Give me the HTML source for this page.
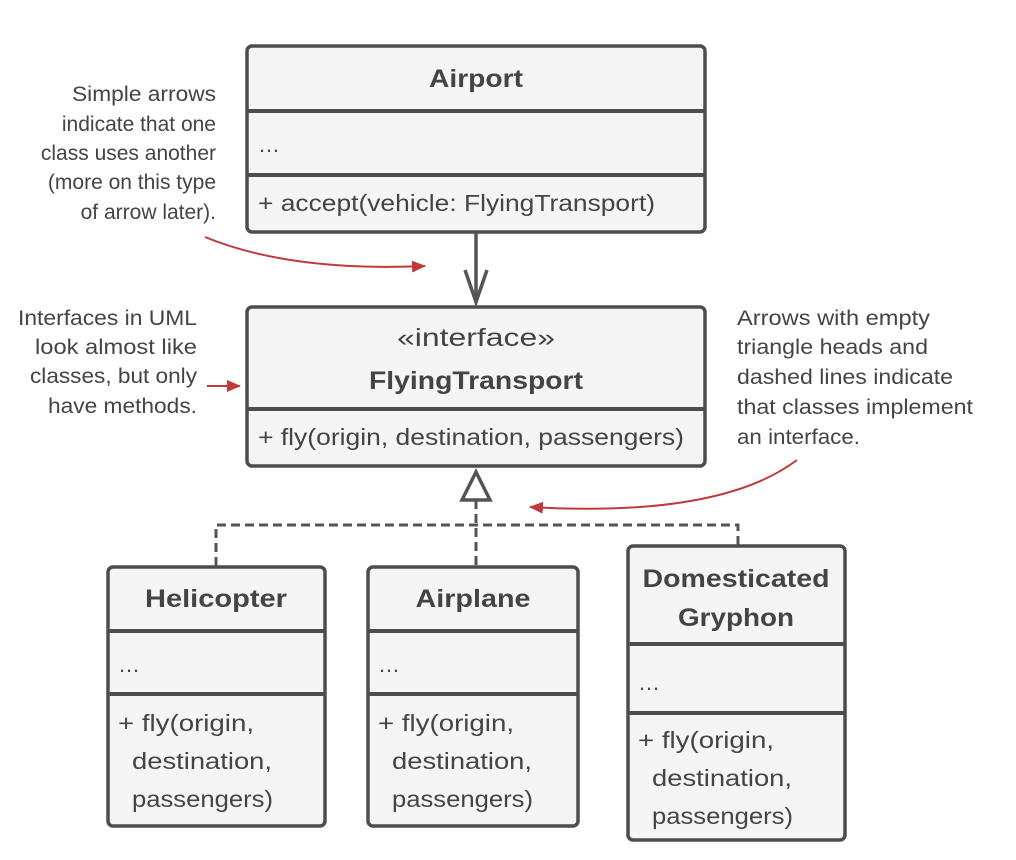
<!DOCTYPE html>
<html><head><meta charset="utf-8"><style>
html,body{margin:0;padding:0;background:#fff;}
svg{display:block;}
text{font-family:"Liberation Sans",sans-serif;fill:#444;}
.b{font-weight:bold;}
</style></head><body>
<svg width="1016" height="860" viewBox="0 0 1016 860" xmlns="http://www.w3.org/2000/svg">
<defs>
<marker id="red" markerWidth="14" markerHeight="12" refX="13" refY="6" orient="auto" markerUnits="userSpaceOnUse">
<path d="M0,0 L14,6 L0,12 z" fill="#c0393b"/></marker>
</defs>
<g fill="#f5f5f5" stroke="#4d4d4d" stroke-width="3.5">
<rect x="247" y="46" width="458" height="186" rx="5"/>
<rect x="247" y="307" width="458" height="159" rx="5"/>
<rect x="108" y="567" width="217" height="259" rx="5"/>
<rect x="368" y="567" width="210" height="259" rx="5"/>
<rect x="628" y="546" width="217" height="294" rx="5"/>
</g>
<g stroke="#4d4d4d" stroke-width="4">
<line x1="247" y1="111" x2="705" y2="111"/>
<line x1="247" y1="175" x2="705" y2="175"/>
<line x1="247" y1="409" x2="705" y2="409"/>
<line x1="108" y1="631" x2="325" y2="631"/>
<line x1="108" y1="694" x2="325" y2="694"/>
<line x1="368" y1="631" x2="578" y2="631"/>
<line x1="368" y1="694" x2="578" y2="694"/>
<line x1="628" y1="644" x2="845" y2="644"/>
<line x1="628" y1="713" x2="845" y2="713"/>
</g>
<g stroke="#555" stroke-width="3.5" fill="none">
<line x1="476" y1="232" x2="476" y2="302"/>
<polyline points="465,270 476,302 487,270"/>
</g>
<g stroke="#555" stroke-width="3" fill="none" stroke-dasharray="9,5">
<line x1="476" y1="500" x2="476" y2="566"/>
<polyline points="216,566 216,525 738,525 738,545"/>
</g>
<polygon points="476,472 462,500 490,500" fill="#fff" stroke="#555" stroke-width="3.5"/>
<g stroke="#c0393b" stroke-width="2" fill="none">
<path d="M205,237 Q290,272 425,266" marker-end="url(#red)"/>
<path d="M207,386 L240,386" marker-end="url(#red)"/>
<path d="M797,460 Q720,518 530,507" marker-end="url(#red)"/>
</g>
<g font-size="25">
<text x="476" y="87" text-anchor="middle" class="b" textLength="94" lengthAdjust="spacingAndGlyphs">Airport</text>
<text x="258" y="152" font-size="22">…</text>
<text x="258" y="211" font-size="23" textLength="397" lengthAdjust="spacingAndGlyphs">+ accept(vehicle: FlyingTransport)</text>
<text x="476" y="346" text-anchor="middle" textLength="158" lengthAdjust="spacingAndGlyphs">«interface»</text>
<text x="476" y="389" text-anchor="middle" class="b" textLength="214" lengthAdjust="spacingAndGlyphs">FlyingTransport</text>
<text x="258" y="445" font-size="23" textLength="426" lengthAdjust="spacingAndGlyphs">+ fly(origin, destination, passengers)</text>
<text x="216" y="607" text-anchor="middle" class="b" textLength="142" lengthAdjust="spacingAndGlyphs">Helicopter</text>
<text x="473" y="607" text-anchor="middle" class="b" textLength="115" lengthAdjust="spacingAndGlyphs">Airplane</text>
<text x="736" y="587" text-anchor="middle" class="b" textLength="187" lengthAdjust="spacingAndGlyphs">Domesticated</text>
<text x="736" y="626" text-anchor="middle" class="b" textLength="116" lengthAdjust="spacingAndGlyphs">Gryphon</text>
<g font-size="22">
<text x="118" y="672">…</text><text x="378" y="672">…</text><text x="638" y="690">…</text>
</g>
<g font-size="23">
<text x="118" y="731" textLength="136" lengthAdjust="spacingAndGlyphs">+ fly(origin,</text>
<text x="132" y="769" textLength="140" lengthAdjust="spacingAndGlyphs">destination,</text>
<text x="132" y="807" textLength="141" lengthAdjust="spacingAndGlyphs">passengers)</text>
<text x="378" y="731" textLength="136" lengthAdjust="spacingAndGlyphs">+ fly(origin,</text>
<text x="392" y="769" textLength="140" lengthAdjust="spacingAndGlyphs">destination,</text>
<text x="392" y="807" textLength="141" lengthAdjust="spacingAndGlyphs">passengers)</text>
<text x="638" y="748" textLength="136" lengthAdjust="spacingAndGlyphs">+ fly(origin,</text>
<text x="652" y="786" textLength="140" lengthAdjust="spacingAndGlyphs">destination,</text>
<text x="652" y="824" textLength="141" lengthAdjust="spacingAndGlyphs">passengers)</text>
</g>
</g>
<g font-size="21" text-anchor="end">
<text x="216" y="101" textLength="144" lengthAdjust="spacingAndGlyphs">Simple arrows</text>
<text x="216" y="131">indicate that one</text>
<text x="216" y="160">class uses another</text>
<text x="216" y="189">(more on this type</text>
<text x="216" y="219">of arrow later).</text>
<text x="197" y="325" textLength="179" lengthAdjust="spacingAndGlyphs">Interfaces in UML</text>
<text x="197" y="354" textLength="162" lengthAdjust="spacingAndGlyphs">look almost like</text>
<text x="197" y="383" textLength="167" lengthAdjust="spacingAndGlyphs">classes, but only</text>
<text x="197" y="413" textLength="149" lengthAdjust="spacingAndGlyphs">have methods.</text>
</g>
<g font-size="21">
<text x="737" y="325" textLength="193" lengthAdjust="spacingAndGlyphs">Arrows with empty</text>
<text x="737" y="354" textLength="191" lengthAdjust="spacingAndGlyphs">triangle heads and</text>
<text x="737" y="384" textLength="216" lengthAdjust="spacingAndGlyphs">dashed lines indicate</text>
<text x="737" y="414" textLength="236" lengthAdjust="spacingAndGlyphs">that classes implement</text>
<text x="737" y="444" textLength="123" lengthAdjust="spacingAndGlyphs">an interface.</text>
</g>
</svg>
</body></html>
